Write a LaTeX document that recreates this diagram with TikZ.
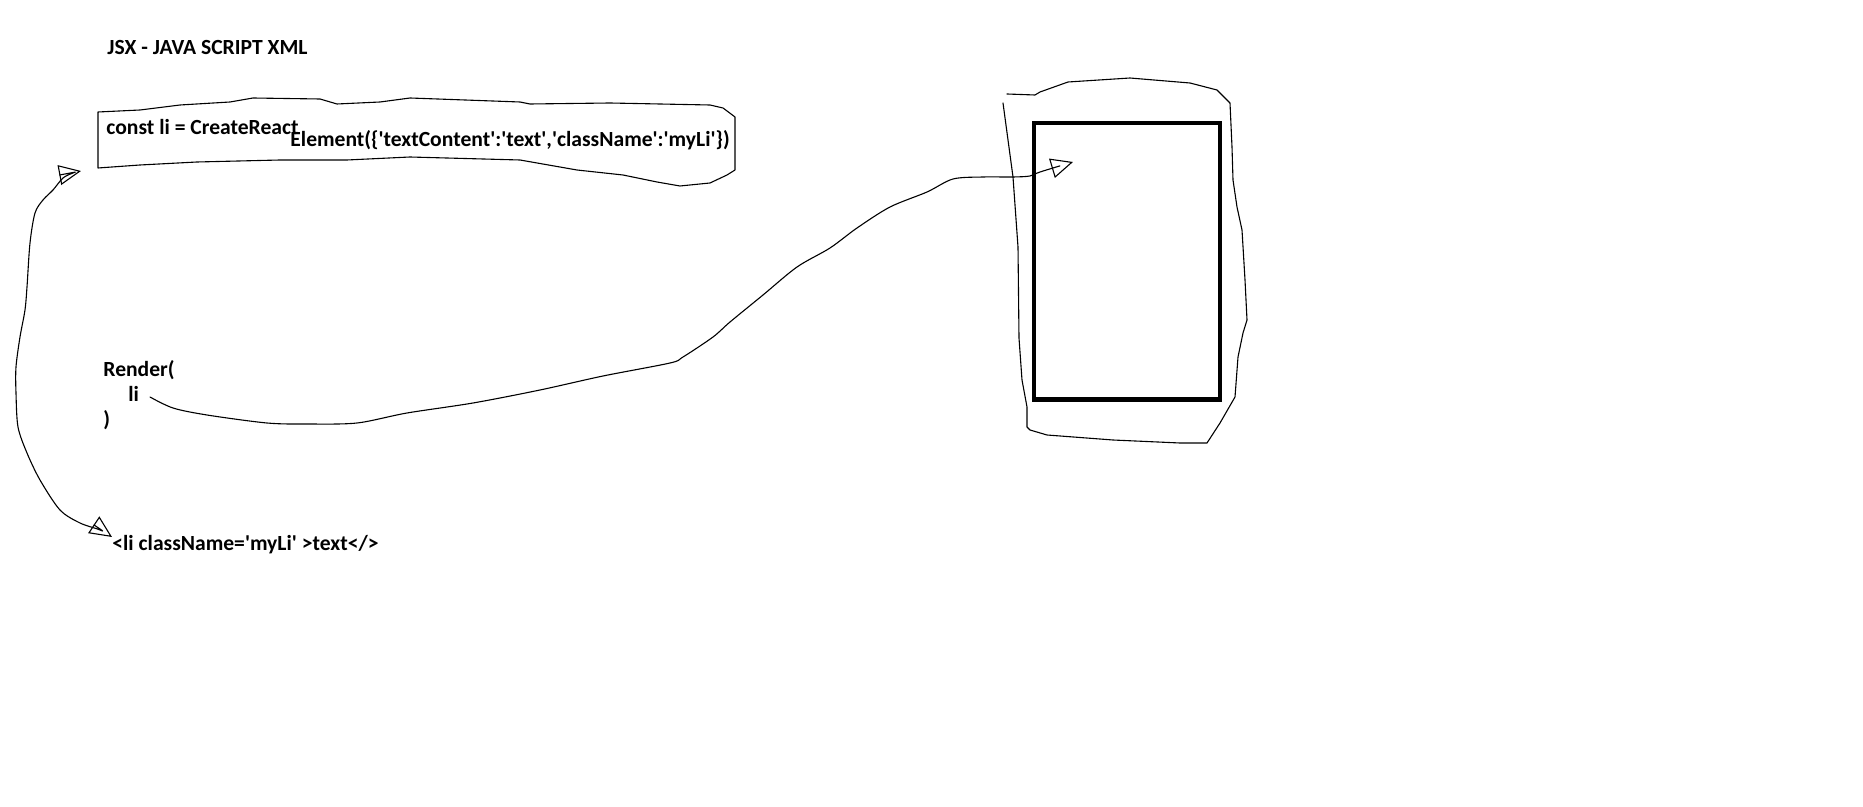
\documentclass[tikz,border=0pt]{standalone}
\usepackage{fontspec}
\setmainfont{Carlito}
\usetikzlibrary{arrows.meta}
\newcommand{\sq}{\textquotesingle}
\begin{document}
\begin{tikzpicture}[x=0.5pt,y=-0.5pt,
  lbl/.style={anchor=base west, inner sep=0pt, font=\fontsize{10.8}{13}\selectfont\bfseries},
  pen/.style={line width=0.55pt, line join=round, line cap=round},
  opentip/.tip={Triangle[open,length=11pt,width=10pt]},
  screenbox/.style={draw, line width=2.15pt, minimum width=93pt, minimum height=138.25pt, inner sep=0pt}]
\useasboundingbox[fill=white] (0,0) rectangle (1863,807);

% texts
\node[lbl] (title) at (107,54.3) {JSX - JAVA SCRIPT XML};
\node[lbl] (constA) at (106,135) {const li = CreateReact};
\node[lbl] (constB) at (290,147) {Element(\{\sq textContent\sq:\sq text\sq,\sq className\sq:\sq myLi\sq\})};
\node[lbl] (render) at (103,377) {Render(};
\node[lbl] (li) at (128,402) {li};
\node[lbl] (close) at (103,427) {)};
\node[lbl] (litag) at (112,550) {<li className=\sq myLi\sq{} >text</>};

% hand-drawn outline round the createElement call
\draw[pen] (98,112) -- (140,110) -- (180,105) -- (230,102) -- (253,98) -- (320,99)
  -- (337,104) -- (380,102) -- (410,98) -- (520,102) -- (530,104) -- (610,103)
  -- (710,105) -- (723,108) -- (735,117) -- (735,170) -- (727,175) -- (710,183)
  -- (680,186) -- (657,182) -- (623,175) -- (577,170) -- (520,160) -- (410,157)
  -- (347,160) -- (280,160) -- (197,162) -- (140,165) -- (98,168) -- cycle;

% screen
\node[screenbox] (screen) at (1127,261.25) {};
\draw[pen] (1007,94) -- (1035,95) -- (1040,92) -- (1068,82) -- (1130,78) -- (1190,83)
  -- (1217,90) -- (1230,103) -- (1232,147) -- (1233,180) -- (1237,207) -- (1242,230)
  -- (1245,280) -- (1247,320) -- (1243,333) -- (1238,357) -- (1235,397) -- (1220,423)
  -- (1207,443) -- (1180,443) -- (1113,440) -- (1047,435) -- (1030,430) -- (1027,427)
  -- (1027,407) -- (1022,380) -- (1019,338) -- (1018,247) -- (1013,177) -- (1008,140)
  -- (1003,103);

% connector ends
\coordinate (boxend) at (81,171);
\coordinate (tagend) at (112,537);
\coordinate (listart) at (150,397);
\coordinate (screenend) at (1073,162);

% double arrow: <li> tag <-> createElement
\draw[pen, opentip-opentip] plot[smooth, tension=0.5] coordinates {
  (tagend) (100,530) (80,523) (60,510) (40,480) (27,453) (18,427) (16,393) (16,367)
  (20,337) (25,310) (27,287) (30,243) (35,213) (43,200) (53,190) (63,178) (73,173) (boxend)};

% render li -> screen
\draw[pen, -opentip] plot[smooth, tension=0.5] coordinates {
  (listart) (173,408) (207,415) (267,423) (307,424) (357,423) (407,413) (473,403)
  (540,390) (603,376) (670,363) (683,357) (713,337) (730,322) (763,295) (797,267)
  (830,248) (857,228) (890,207) (927,192) (953,179) (983,177) (1013,177) (1030,176)
  (1040,172) (screenend)};
\end{tikzpicture}
\end{document}
